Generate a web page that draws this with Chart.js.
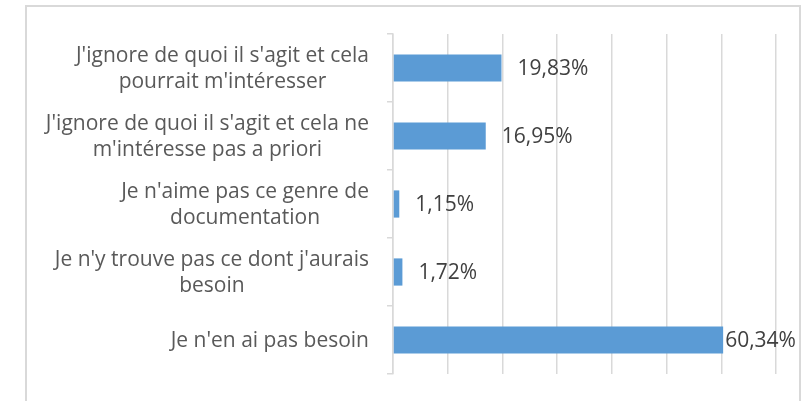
<!DOCTYPE html>
<html>
<head>
<meta charset="utf-8">
<script src="https://cdn.jsdelivr.net/npm/chart.js@4/dist/chart.umd.min.js"></script>
<style>
    body { margin: 0; background: #ffffff; }
    #wrap { width: 807px; height: 401px; }
</style>
</head>
<body>
<div id="wrap"><canvas id="bar-chart" width="807" height="401"></canvas></div>
<script>
// Chart data
const categories = [
    ["J'ignore de quoi il s'agit et cela", "pourrait m'intéresser"],
    ["J'ignore de quoi il s'agit et cela ne", "m'intéresse pas a priori"],
    ["Je n'aime pas ce genre de", "documentation"],
    ["Je n'y trouve pas ce dont j'aurais", "besoin"],
    ["Je n'en ai pas besoin"],
];
const percentages = [19.83, 16.95, 1.15, 1.72, 60.34];
const xTicks = [0, 10, 20, 30, 40, 50, 60, 70];

const FONT = "'Open Sans', 'DejaVu Sans', sans-serif";

// Light grey frame around the whole chart
const framePlugin = {
    id: 'frame',
    beforeDraw: (chart) => {
        const ctx = chart.ctx;
        ctx.save();
        ctx.strokeStyle = '#d9d9d9';
        ctx.lineWidth = 2;
        ctx.strokeRect(26, 6, 774, 500);
        ctx.restore();
    },
};

// Category labels: each block right aligned, its lines centred (like Excel)
const categoryLabelPlugin = {
    id: 'categoryLabels',
    afterDraw: (chart) => {
        const ctx = chart.ctx;
        const yScale = chart.scales.y;
        const rightEdge = chart.chartArea.left - 24;
        const lineHeight = 26.5;
        ctx.save();
        ctx.font = `21px ${FONT}`;
        ctx.fillStyle = '#595959';
        ctx.textAlign = 'center';
        ctx.textBaseline = 'middle';
        categories.forEach((lines, i) => {
            const widest = Math.max(...lines.map(l => ctx.measureText(l).width));
            const cx = rightEdge - widest / 2;
            const cy = yScale.getPixelForTick(i) + 1;
            lines.forEach((line, j) => {
                const y = cy + (j - (lines.length - 1) / 2) * lineHeight;
                ctx.fillText(line, cx, y);
            });
        });
        ctx.restore();
    },
};

// Value labels after each bar
const valueLabelPlugin = {
    id: 'valueLabels',
    afterDatasetsDraw: (chart) => {
        const ctx = chart.ctx;
        const meta = chart.getDatasetMeta(0);
        ctx.save();
        ctx.font = `21px ${FONT}`;
        ctx.fillStyle = '#404040';
        ctx.textAlign = 'left';
        ctx.textBaseline = 'middle';
        meta.data.forEach((bar, i) => {
            const value = percentages[i];
            const offset = value > 50 ? 2 : 16; // long bar label sits tight against its end
            const text = value.toFixed(2).replace('.', ',') + '%';
            ctx.fillText(text, bar.x + offset, bar.y + 1);
        });
        ctx.restore();
    },
};

const ctx = document.getElementById('bar-chart').getContext('2d');
const barChart = new Chart(ctx, {
    type: 'bar',
    data: {
        labels: categories,
        datasets: [{
            data: percentages,
            backgroundColor: '#5b9bd5',
            borderWidth: 0,
            barPercentage: 0.4,
            categoryPercentage: 1,
        }],
    },
    options: {
        indexAxis: 'y',
        responsive: false,
        animation: false,
        layout: {
            padding: { top: 34, right: 31, bottom: 27, left: 387 },
        },
        plugins: {
            legend: { display: false },
            tooltip: { enabled: false },
        },
        scales: {
            x: {
                min: xTicks[0],
                max: xTicks[xTicks.length - 1],
                afterBuildTicks: (scale) => {
                    scale.ticks = xTicks.map(v => ({ value: v }));
                },
                ticks: { display: false },
                grid: {
                    color: '#d9d9d9',
                    lineWidth: 1.5,
                    drawTicks: false,
                },
                border: { display: false },
            },
            y: {
                ticks: { display: false },
                grid: {
                    drawOnChartArea: false,
                    drawTicks: true,
                    tickLength: 6,
                    color: '#d9d9d9',
                    lineWidth: 1.5,
                },
                border: { color: '#d9d9d9', width: 1.5 },
            },
        },
    },
    plugins: [framePlugin, categoryLabelPlugin, valueLabelPlugin],
});
</script>
</body>
</html>
